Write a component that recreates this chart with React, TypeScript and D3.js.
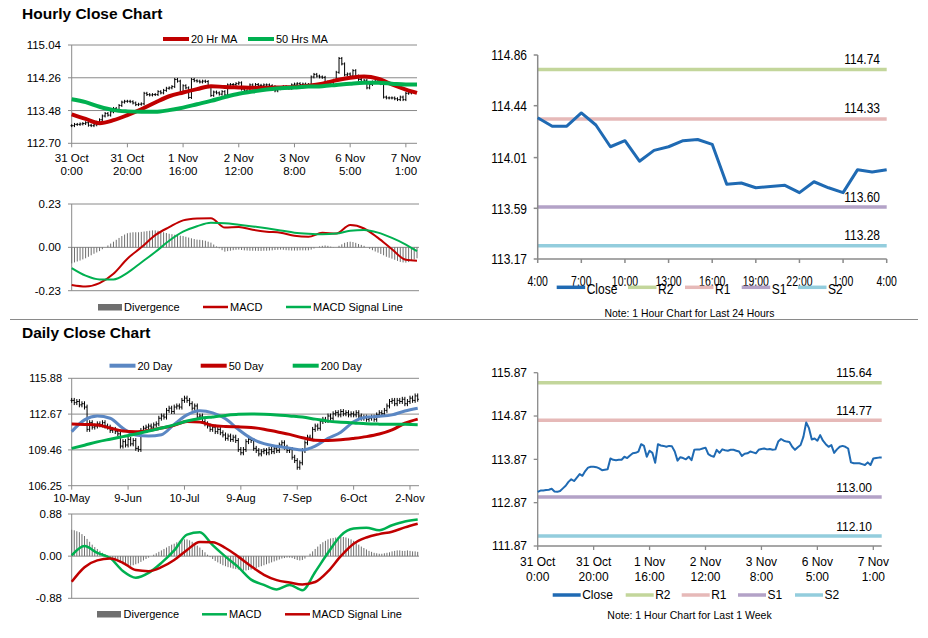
import React from 'react';
import * as d3 from 'd3';

const FONT = "'Liberation Sans', Arial, Helvetica, sans-serif";
const GRID = '#8a8a8a';
const RED = '#c00000';
const GREEN = '#00b050';
const MA_BLUE = '#5b87c3';
const CLOSE_BLUE = '#1f6ab3';
const DIV = '#6f6f6f';
const LEVEL_COLORS = ['#c3d69b', '#e6b9b8', '#b3a2c7', '#93cddd'];
const LEVEL_NAMES = ['R2', 'R1', 'S1', 'S2'];
const WICK_H = 0.035;
const WICK_D = 0.22;

// ---------------- Hourly data (31 Oct 0:00 -> 7 Nov) ----------------
const hourlyClose = [
  113.12, 113.15, 113.15, 113.16, 113.17, 113.19, 113.13, 113.12, 113.14, 113.2,
  113.26, 113.35, 113.41, 113.37, 113.45, 113.53, 113.49, 113.6, 113.68, 113.7,
  113.7, 113.69, 113.66, 113.62, 113.63, 113.64, 113.89, 113.86, 113.85, 113.86,
  113.86, 113.93, 113.9, 113.96, 114.01, 114.02, 114.05, 114.22, 114.18, 113.93,
  114.07, 114.02, 113.79, 114.22, 114.19, 114.18, 114.16, 114.18, 114.17, 114.05,
  113.84, 113.92, 113.9, 113.87, 113.93, 113.85, 114.09, 114.1, 114.1, 114.12,
  114.14, 113.99, 113.95, 113.93, 114.09, 114.02, 114.1, 114.08, 114.07, 114.09,
  114.09, 114.07, 114.05, 113.95, 114.0, 114.01, 114.05, 114.03, 114.01, 114.09,
  114.11, 114.12, 114.1, 114.11, 114.09, 114.1, 114.28, 114.34, 114.3, 114.28,
  114.27, 114.16, 114.09, 114.15, 114.2, 114.39, 114.72, 114.59, 114.33, 114.35,
  114.3, 114.43, 114.3, 114.22, 114.16, 114.2, 114.02, 114.1, 114.16, 114.18,
  114.16, 114.12, 113.8, 113.78, 113.78, 113.78, 113.76, 113.74, 113.8, 113.74,
  113.89, 113.9, 113.91, 113.91,
];
const hourlyTickIdx = [0, 20, 40, 60, 80, 100, 120];
const hourlyTickDates = ['31 Oct', '31 Oct', '1 Nov', '2 Nov', '3 Nov', '6 Nov', '7 Nov'];
const hourlyTickTimes = ['0:00', '20:00', '16:00', '12:00', '8:00', '5:00', '1:00'];
const hourlySampleIdx = [0, 5, 10, 15, 20, 25, 30, 35, 40, 45, 50, 55, 60, 65, 70, 75, 80, 85, 90, 95, 100, 105, 110, 115, 120, 124];
const ma20Hr = [113.39, 113.28, 113.18, 113.25, 113.37, 113.51, 113.67, 113.82, 113.91, 113.99, 114.06, 114.04, 114.03, 114.02, 114.02, 114.03, 114.04, 114.07, 114.12, 114.2, 114.26, 114.29, 114.24, 114.1, 113.98, 113.9];
const ma50Hr = [113.75, 113.68, 113.57, 113.49, 113.46, 113.45, 113.45, 113.49, 113.55, 113.63, 113.71, 113.8, 113.88, 113.93, 113.98, 114.01, 114.03, 114.05, 114.06, 114.09, 114.12, 114.14, 114.14, 114.12, 114.1, 114.1];
const hourlyMacd = [-0.2, -0.208, -0.19, -0.14, -0.06, 0.0, 0.065, 0.107, 0.143, 0.153, 0.155, 0.105, 0.108, 0.093, 0.083, 0.078, 0.061, 0.056, 0.077, 0.073, 0.118, 0.1, 0.05, -0.01, -0.066, -0.071];
const hourlySignal = [-0.11, -0.15, -0.17, -0.17, -0.135, -0.08, -0.025, 0.035, 0.083, 0.112, 0.13, 0.128, 0.12, 0.111, 0.101, 0.09, 0.078, 0.072, 0.069, 0.073, 0.088, 0.092, 0.078, 0.05, 0.015, -0.02];
const hourlyDivergence = [
  -0.085, -0.08, -0.075, -0.07, -0.064, -0.058, -0.05, -0.042, -0.034, -0.027,
  -0.02, -0.01, 0.0, 0.01, 0.02, 0.03, 0.04, 0.05, 0.06, 0.068,
  0.075, 0.078, 0.08, 0.08, 0.08, 0.082, 0.084, 0.086, 0.088, 0.09,
  0.09, 0.088, 0.085, 0.08, 0.076, 0.072, 0.07, 0.067, 0.064, 0.062,
  0.06, 0.056, 0.052, 0.048, 0.044, 0.041, 0.04, 0.038, 0.035, 0.03,
  0.025, 0.015, 0.005, -0.005, -0.015, -0.023, -0.02, -0.018, -0.015, -0.013,
  -0.012, -0.014, -0.016, -0.017, -0.018, -0.018, -0.018, -0.019, -0.019, -0.018,
  -0.018, -0.017, -0.016, -0.014, -0.013, -0.012, -0.013, -0.015, -0.016, -0.017,
  -0.017, -0.017, -0.016, -0.016, -0.016, -0.016, -0.012, -0.006, 0.0, 0.005,
  0.008, 0.01, 0.008, 0.004, 0.001, 0.0, 0.008, 0.016, 0.024, 0.028,
  0.03, 0.028, 0.024, 0.018, 0.013, 0.008, 0.0, -0.008, -0.015, -0.022,
  -0.028, -0.035, -0.042, -0.05, -0.055, -0.06, -0.066, -0.072, -0.077, -0.08,
  -0.081, -0.078, -0.072, -0.064, -0.058,
];
const hourlyPriceTicks = [112.7, 113.48, 114.26, 115.04];
const hourlyMacdTicks = [-0.23, 0.0, 0.23];

// ---------------- Last 24 hours ----------------
const close24 = [114.34, 114.27, 114.27, 114.38, 114.28, 114.1, 114.15, 113.98, 114.07, 114.1, 114.15, 114.16, 114.12, 113.79, 113.8, 113.76, 113.77, 113.78, 113.72, 113.81, 113.76, 113.72, 113.91, 113.89, 113.91];
const hours24Labels = ['4:00', '7:00', '10:00', '13:00', '16:00', '19:00', '22:00', '1:00', '4:00'];
const hours24Idx = [0, 3, 6, 9, 12, 15, 18, 21, 24];
const levels24 = [114.74, 114.33, 113.6, 113.28];
const ticks24 = [113.17, 113.59, 114.01, 114.44, 114.86];

// ---------------- Last week levels ----------------
const levelsWeek = [115.64, 114.77, 113.0, 112.1];
const ticksWeek = [111.87, 112.87, 113.87, 114.87, 115.87];

// ---------------- Daily data (10 May -> 7 Nov) ----------------
const dailyClose = [
  113.9, 113.7, 113.8, 113.5, 113.6, 113.3, 111.3, 111.9, 111.5, 111.6,
  111.8, 111.7, 111.9, 111.6, 111.5, 111.2, 111.3, 111.1, 110.9, 109.8,
  110.2, 109.9, 110.4, 110.0, 110.3, 109.6, 109.5, 111.2, 111.4, 111.5,
  111.6, 111.5, 111.7, 111.8, 112.3, 112.5, 112.4, 113.0, 113.2, 112.9,
  113.3, 113.4, 113.3, 113.9, 114.1, 113.9, 113.6, 113.2, 113.4, 112.4,
  112.5, 112.0, 111.8, 111.6, 111.3, 111.5, 111.1, 111.3, 111.0, 110.8,
  110.5, 110.7, 110.4, 110.6, 110.3, 109.5, 109.2, 109.5, 110.2, 110.4,
  110.3, 109.6, 109.4, 109.1, 109.3, 109.4, 109.2, 109.5, 109.3, 109.6,
  109.4, 109.9, 110.1, 109.7, 109.4, 109.5, 108.8, 108.5, 107.9, 108.3,
  109.4, 110.1, 110.6, 110.5, 111.3, 111.6, 111.4, 112.0, 112.2, 112.1,
  112.5, 112.3, 112.7, 112.8, 112.6, 112.9, 112.7, 112.8, 112.6, 112.7,
  112.6, 112.8, 112.5, 112.3, 112.4, 112.2, 112.3, 112.4, 112.2, 112.6,
  112.8, 112.7, 113.0, 113.4, 113.8, 113.9, 113.6, 113.9, 113.8, 114.0,
  113.6, 113.8, 114.1, 113.9, 114.3, 114.0,
];
const dailyTickIdx = [0, 22, 44, 66, 88, 110, 132];
const dailyTickLabels = ['10-May', '9-Jun', '10-Jul', '9-Aug', '7-Sep', '6-Oct', '2-Nov'];
const dailySampleIdx = [0, 5, 10, 15, 20, 25, 30, 35, 40, 45, 50, 55, 60, 65, 70, 75, 80, 85, 90, 95, 100, 105, 110, 115, 120, 125, 130, 135];
const ma20Day = [111.1, 112.15, 112.5, 112.3, 111.4, 110.8, 110.7, 110.82, 111.75, 112.6, 112.97, 112.78, 112.25, 111.3, 110.5, 110.02, 109.78, 109.62, 109.45, 109.8, 110.5, 111.05, 111.98, 112.4, 112.47, 112.6, 112.95, 113.2];
const ma50Day = [111.78, 111.74, 111.7, 111.42, 111.15, 111.08, 111.2, 111.42, 111.66, 112.0, 111.95, 111.65, 111.56, 111.53, 111.47, 111.32, 111.08, 110.85, 110.55, 110.32, 110.3, 110.36, 110.49, 110.65, 110.88, 111.25, 111.85, 112.22];
const ma200Day = [109.6, 109.88, 110.18, 110.42, 110.65, 110.88, 111.15, 111.42, 111.7, 112.05, 112.28, 112.42, 112.55, 112.65, 112.68, 112.66, 112.6, 112.5, 112.4, 112.22, 112.04, 111.95, 111.88, 111.8, 111.77, 111.76, 111.75, 111.72];
const dailyMacd = [0.015, 0.21, 0.066, -0.04, -0.31, -0.45, -0.35, -0.14, 0.12, 0.45, 0.5, 0.23, -0.01, -0.23, -0.49, -0.6, -0.695, -0.6, -0.71, -0.33, 0.07, 0.43, 0.575, 0.593, 0.54, 0.645, 0.725, 0.765];
const dailySignal = [-0.535, -0.23, -0.088, -0.05, -0.14, -0.29, -0.313, -0.23, -0.08, 0.13, 0.295, 0.29, 0.17, -0.01, -0.21, -0.39, -0.5, -0.55, -0.59, -0.54, -0.32, 0.0, 0.26, 0.39, 0.46, 0.51, 0.6, 0.676];
const dailyDivergence = [
  0.55, 0.54, 0.52, 0.5, 0.46, 0.42, 0.36, 0.3, 0.24, 0.19,
  0.15, 0.11, 0.07, 0.04, 0.01, -0.02, -0.05, -0.08, -0.11, -0.14,
  -0.17, -0.19, -0.2, -0.2, -0.19, -0.17, -0.15, -0.12, -0.09, -0.06,
  -0.03, 0.0, 0.03, 0.06, 0.09, 0.12, 0.15, 0.18, 0.21, 0.24,
  0.26, 0.29, 0.32, 0.34, 0.35, 0.35, 0.33, 0.3, 0.26, 0.22,
  0.18, 0.13, 0.08, 0.03, -0.02, -0.06, -0.1, -0.13, -0.16, -0.19,
  -0.21, -0.23, -0.24, -0.26, -0.27, -0.28, -0.29, -0.3, -0.3, -0.29,
  -0.28, -0.26, -0.25, -0.23, -0.21, -0.19, -0.17, -0.15, -0.13, -0.11,
  -0.09, -0.07, -0.05, -0.04, -0.03, -0.03, -0.04, -0.06, -0.08, -0.09,
  -0.08, -0.05, 0.0, 0.05, 0.1, 0.15, 0.2, 0.25, 0.29, 0.32,
  0.35, 0.37, 0.38, 0.39, 0.4, 0.4, 0.4, 0.39, 0.37, 0.35,
  0.32, 0.28, 0.24, 0.2, 0.17, 0.14, 0.11, 0.09, 0.07, 0.06,
  0.05, 0.05, 0.06, 0.07, 0.08, 0.1, 0.11, 0.12, 0.12, 0.11,
  0.11, 0.12, 0.11, 0.1, 0.1, 0.09,
];
const dailyPriceTicks = [106.25, 109.46, 112.67, 115.88];
const dailyMacdTicks = [-0.88, 0.0, 0.88];

const f2 = (v: number) => v.toFixed(2);
type Sc = d3.ScaleLinear<number, number>;

function sampled(xs: number[], x: Sc, y: Sc, data: number[]) {
  return d3.line<number>().x((_, i) => x(xs[i])).y((d) => y(d)).curve(d3.curveMonotoneX)(data) || '';
}
function plain(x: Sc, y: Sc, data: number[]) {
  return d3.line<number>().x((_, i) => x(i)).y((d) => y(d))(data) || '';
}

function Ohlc({ data, x, y, wick }: { data: number[]; x: Sc; y: Sc; wick: number }) {
  return (
    <g stroke="#000" strokeWidth={1}>
      {data.map((c, i) => {
        const o = i > 0 ? data[i - 1] : c;
        const xx = x(i);
        return (
          <g key={i}>
            <line x1={xx} x2={xx} y1={y(Math.max(o, c) + wick)} y2={y(Math.min(o, c) - wick)} />
            <line x1={xx - 1.2} x2={xx} y1={y(o)} y2={y(o)} />
            <line x1={xx} x2={xx + 1.2} y1={y(c)} y2={y(c)} />
          </g>
        );
      })}
    </g>
  );
}

function YLabels({ ticks, y, x, size }: { ticks: number[]; y: Sc; x: number; size: number }) {
  return (
    <g fontSize={size} textAnchor="end">
      {ticks.map((t) => (
        <text key={t} x={x} y={y(t)} dy="0.35em">{f2(t)}</text>
      ))}
    </g>
  );
}

function LegendLine({ x, y, color, label, w = 26, sw = 4 }: { x: number; y: number; color: string; label: string; w?: number; sw?: number }) {
  return (
    <g>
      <line x1={x} x2={x + w} y1={y} y2={y} stroke={color} strokeWidth={sw} />
      <text x={x + w + 2} y={y} dy="0.35em" fontSize={11}>{label}</text>
    </g>
  );
}

function HourlyPanel() {
  const x = d3.scaleLinear().domain([0, 124]).range([71.7, 417]);
  const y = d3.scaleLinear().domain([112.7, 115.04]).range([143.3, 45]);
  return (
    <g>
      <text x={22} y={19} fontSize={15.5} fontWeight="bold">Hourly Close Chart</text>
      <LegendLine x={163} y={39} color={RED} label="20 Hr MA" />
      <LegendLine x={248} y={39} color={GREEN} label="50 Hrs MA" />
      {hourlyPriceTicks.map((t) => (
        <line key={t} x1={68} x2={417} y1={y(t)} y2={y(t)} stroke={GRID} />
      ))}
      <line x1={x(0)} x2={x(0)} y1={y(115.04)} y2={y(112.7)} stroke={GRID} />
      {hourlyTickIdx.map((t, i) => (
        <g key={t}>
          <line x1={x(t)} x2={x(t)} y1={y(112.7)} y2={y(112.7) + 4} stroke={GRID} />
          <text x={x(t)} y={161.5} fontSize={11.5} textAnchor="middle">{hourlyTickDates[i]}</text>
          <text x={x(t)} y={175} fontSize={11.5} textAnchor="middle">{hourlyTickTimes[i]}</text>
        </g>
      ))}
      <YLabels ticks={hourlyPriceTicks} y={y} x={61} size={11.5} />
      <Ohlc data={hourlyClose} x={x} y={y} wick={WICK_H} />
      <path d={sampled(hourlySampleIdx, x, y, ma20Hr)} fill="none" stroke={RED} strokeWidth={4} />
      <path d={sampled(hourlySampleIdx, x, y, ma50Hr)} fill="none" stroke={GREEN} strokeWidth={4} />
    </g>
  );
}

function HourlyMacdPanel() {
  const x = d3.scaleLinear().domain([0, 124]).range([71.7, 417]);
  const y = d3.scaleLinear().domain([-0.23, 0.23]).range([290.7, 204]);
  return (
    <g>
      {hourlyMacdTicks.map((t) => (
        <line key={t} x1={68} x2={419} y1={y(t)} y2={y(t)} stroke={GRID} />
      ))}
      <line x1={x(0)} x2={x(0)} y1={y(0.23)} y2={y(-0.23)} stroke={GRID} />
      <YLabels ticks={hourlyMacdTicks} y={y} x={61} size={11.5} />
      <g stroke={DIV} strokeWidth={1}>
        {hourlyDivergence.map((d, i) => (
          <line key={i} x1={x(i)} x2={x(i)} y1={y(0)} y2={y(d)} />
        ))}
      </g>
      <path d={sampled(hourlySampleIdx, x, y, hourlyMacd)} fill="none" stroke={RED} strokeWidth={2} />
      <path d={sampled(hourlySampleIdx, x, y, hourlySignal)} fill="none" stroke={GREEN} strokeWidth={2} />
      <rect x={98} y={304} width={24} height={6.5} fill={DIV} />
      <text x={124} y={307} dy="0.35em" fontSize={11}>Divergence</text>
      <LegendLine x={203} y={307} color={RED} label="MACD" w={25} sw={2.5} />
      <LegendLine x={286} y={307} color={GREEN} label="MACD Signal Line" w={25} sw={2.5} />
    </g>
  );
}

function sq(x: number, y: number, sx: number) {
  return `translate(${x},${y}) scale(${sx},1)`;
}

function Day24Panel() {
  const x = d3.scaleLinear().domain([0, 24]).range([537.7, 886.7]);
  const y = d3.scaleLinear().domain([113.17, 114.86]).range([259, 55]);
  const legendX = [556.7, 628, 685, 741.7, 798];
  const legendColors = [CLOSE_BLUE, ...LEVEL_COLORS];
  const legendNames = ['Close', ...LEVEL_NAMES];
  return (
    <g>
      {levels24.map((l, i) => (
        <g key={l}>
          <line x1={x(0)} x2={x(24)} y1={y(l)} y2={y(l)} stroke={LEVEL_COLORS[i]} strokeWidth={3.5} />
          <text transform={sq(880, y(l) - 5.5, 0.8)} fontSize={15} textAnchor="end">{f2(l)}</text>
        </g>
      ))}
      <line x1={x(0)} x2={x(0)} y1={y(114.86)} y2={y(113.17)} stroke={GRID} strokeWidth={1.5} />
      <line x1={x(0)} x2={x(24)} y1={y(113.17)} y2={y(113.17)} stroke={GRID} strokeWidth={1.5} />
      {ticks24.map((t) => (
        <g key={t}>
          <line x1={x(0) - 4} x2={x(0)} y1={y(t)} y2={y(t)} stroke={GRID} strokeWidth={1.5} />
          <text transform={sq(527, y(t) + 5.3, 0.8)} fontSize={15} textAnchor="end">{f2(t)}</text>
        </g>
      ))}
      {hours24Idx.map((t, i) => (
        <g key={i}>
          <line x1={x(t)} x2={x(t)} y1={y(113.17)} y2={y(113.17) + 4} stroke={GRID} strokeWidth={1.5} />
          <text transform={sq(x(t), 286, 0.75)} fontSize={14} textAnchor="middle">{hours24Labels[i]}</text>
        </g>
      ))}
      <path d={plain(x, y, close24)} fill="none" stroke={CLOSE_BLUE} strokeWidth={3} strokeLinejoin="round" />
      {legendNames.map((n, i) => (
        <g key={n}>
          <line x1={legendX[i]} x2={legendX[i] + 28.5} y1={287.3} y2={287.3} stroke={legendColors[i]} strokeWidth={3.5} />
          <text transform={sq(legendX[i] + 30, 294.3, 0.8)} fontSize={15}>{n}</text>
        </g>
      ))}
      <text x={689.5} y={316.5} fontSize={11} textAnchor="middle" textLength={170} lengthAdjust="spacingAndGlyphs">Note: 1 Hour Chart for Last 24 Hours</text>
    </g>
  );
}

function DailyPanel() {
  const x = d3.scaleLinear().domain([0, 135]).range([71.7, 417.7]);
  const y = d3.scaleLinear().domain([106.25, 115.88]).range([485.7, 378.3]);
  return (
    <g>
      <text x={22} y={338} fontSize={15.5} fontWeight="bold">Daily Close Chart</text>
      <LegendLine x={109.5} y={365.7} color={MA_BLUE} label="20 Day" sw={4} />
      <LegendLine x={200.7} y={365.7} color={RED} label="50 Day" sw={4} />
      <LegendLine x={292.7} y={365.7} color={GREEN} label="200 Day" sw={4} />
      {dailyPriceTicks.map((t) => (
        <line key={t} x1={68} x2={419} y1={y(t)} y2={y(t)} stroke={GRID} />
      ))}
      <line x1={x(0)} x2={x(0)} y1={y(115.88)} y2={y(106.25)} stroke={GRID} />
      {dailyTickIdx.map((t, i) => (
        <g key={t}>
          <line x1={x(t)} x2={x(t)} y1={y(106.25)} y2={y(106.25) + 4} stroke={GRID} />
          <text x={x(t)} y={501.5} fontSize={11} textAnchor="middle">{dailyTickLabels[i]}</text>
        </g>
      ))}
      <YLabels ticks={dailyPriceTicks} y={y} x={62} size={11} />
      <Ohlc data={dailyClose} x={x} y={y} wick={WICK_D} />
      <path d={sampled(dailySampleIdx, x, y, ma20Day)} fill="none" stroke={MA_BLUE} strokeWidth={3} />
      <path d={sampled(dailySampleIdx, x, y, ma50Day)} fill="none" stroke={RED} strokeWidth={3} />
      <path d={sampled(dailySampleIdx, x, y, ma200Day)} fill="none" stroke={GREEN} strokeWidth={3} />
    </g>
  );
}

function DailyMacdPanel() {
  const x = d3.scaleLinear().domain([0, 135]).range([71.7, 417.7]);
  const y = d3.scaleLinear().domain([-0.88, 0.88]).range([598.3, 514]);
  return (
    <g>
      {dailyMacdTicks.map((t) => (
        <line key={t} x1={68} x2={419} y1={y(t)} y2={y(t)} stroke={GRID} />
      ))}
      <line x1={x(0)} x2={x(0)} y1={y(0.88)} y2={y(-0.88)} stroke={GRID} />
      <YLabels ticks={dailyMacdTicks} y={y} x={62} size={11.5} />
      <g stroke={DIV} strokeWidth={1}>
        {dailyDivergence.map((d, i) => (
          <line key={i} x1={x(i)} x2={x(i)} y1={y(0)} y2={y(d)} />
        ))}
      </g>
      <path d={sampled(dailySampleIdx, x, y, dailyMacd)} fill="none" stroke={GREEN} strokeWidth={2.5} />
      <path d={sampled(dailySampleIdx, x, y, dailySignal)} fill="none" stroke={RED} strokeWidth={2.5} />
      <rect x={97} y={611} width={24} height={6.5} fill={DIV} />
      <text x={123.5} y={614.3} dy="0.35em" fontSize={11}>Divergence</text>
      <LegendLine x={202} y={614.3} color={GREEN} label="MACD" w={25} sw={2.5} />
      <LegendLine x={285} y={614.3} color={RED} label="MACD Signal Line" w={25} sw={2.5} />
    </g>
  );
}

function WeekPanel() {
  const x = d3.scaleLinear().domain([0, 123]).range([537.7, 881.7]);
  const y = d3.scaleLinear().domain([111.87, 115.87]).range([546, 372.7]);
  const legendX = [552.7, 625.7, 681.7, 738, 795];
  const legendColors = [CLOSE_BLUE, ...LEVEL_COLORS];
  const legendNames = ['Close', ...LEVEL_NAMES];
  return (
    <g>
      {levelsWeek.map((l, i) => (
        <g key={l}>
          <line x1={x(0)} x2={x(123)} y1={y(l)} y2={y(l)} stroke={LEVEL_COLORS[i]} strokeWidth={3.5} />
          <text x={872} y={y(l) - 5.5} fontSize={12} textAnchor="end">{f2(l)}</text>
        </g>
      ))}
      <line x1={x(0)} x2={x(0)} y1={y(115.87)} y2={y(111.87)} stroke={GRID} strokeWidth={1.3} />
      <line x1={x(0)} x2={x(123)} y1={y(111.87)} y2={y(111.87)} stroke={GRID} strokeWidth={1.3} />
      {ticksWeek.map((t) => (
        <g key={t}>
          <line x1={x(0) - 4} x2={x(0)} y1={y(t)} y2={y(t)} stroke={GRID} strokeWidth={1.3} />
          <text x={527} y={y(t)} dy="0.35em" fontSize={12} textAnchor="end">{f2(t)}</text>
        </g>
      ))}
      {hourlyTickIdx.map((t, i) => (
        <g key={t}>
          <line x1={x(t)} x2={x(t)} y1={y(111.87)} y2={y(111.87) + 4} stroke={GRID} strokeWidth={1.3} />
          <text x={x(t)} y={566} fontSize={12} textAnchor="middle">{hourlyTickDates[i]}</text>
          <text x={x(t)} y={581} fontSize={12} textAnchor="middle">{hourlyTickTimes[i]}</text>
        </g>
      ))}
      <path d={plain(x, y, hourlyClose)} fill="none" stroke={CLOSE_BLUE} strokeWidth={2} strokeLinejoin="round" />
      {legendNames.map((n, i) => (
        <g key={n}>
          <line x1={legendX[i]} x2={legendX[i] + 28} y1={595} y2={595} stroke={legendColors[i]} strokeWidth={3.5} />
          <text x={legendX[i] + 29.5} y={595} dy="0.35em" fontSize={12}>{n}</text>
        </g>
      ))}
      <text x={689.5} y={618.5} fontSize={10.5} textAnchor="middle">Note: 1 Hour Chart for Last 1 Week</text>
    </g>
  );
}

export default function App() {
  return (
    <svg width={928} height={638} style={{ position: 'absolute', left: 0, top: 0, background: '#fff' }} fontFamily={FONT}>
      <rect width={928} height={638} fill="#fff" />
      <HourlyPanel />
      <HourlyMacdPanel />
      <Day24Panel />
      <line x1={10} x2={918} y1={319.5} y2={319.5} stroke="#8a8a8a" strokeWidth={1} />
      <DailyPanel />
      <DailyMacdPanel />
      <WeekPanel />
    </svg>
  );
}
